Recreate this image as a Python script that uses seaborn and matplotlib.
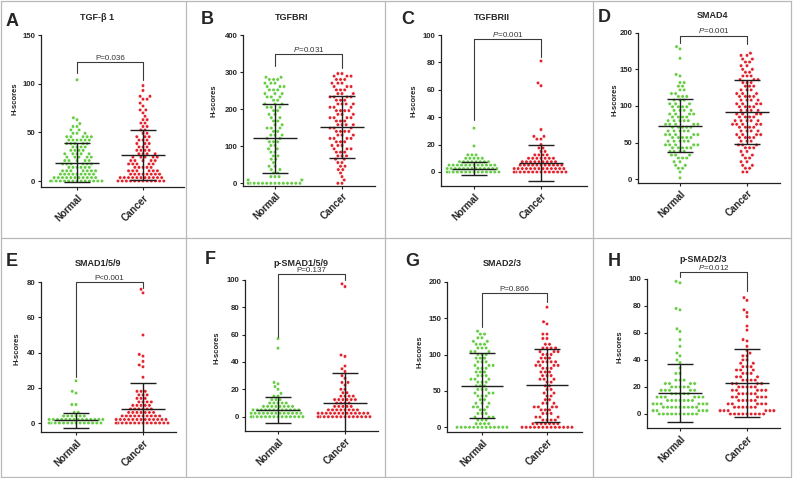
import warnings
warnings.filterwarnings("ignore")
import matplotlib
matplotlib.use("Agg")
import matplotlib.pyplot as plt
import numpy as np
import pandas as pd
import seaborn as sns
from matplotlib.lines import Line2D

sns.set_style("ticks")
plt.rcParams["font.family"] = ["Liberation Sans", "DejaVu Sans"]
plt.rcParams["mathtext.fontset"] = "custom"
plt.rcParams["mathtext.it"] = "Liberation Sans:italic"
plt.rcParams["mathtext.rm"] = "Liberation Sans"

# ---------------- data ----------------
groups = ["Normal", "Cancer"]
panel_letters = ["A", "B", "C", "D", "E", "F", "G", "H"]
titles = ["TGF-β 1", "TGFBRI", "TGFBRII", "SMAD4", "SMAD1/5/9", "p-SMAD1/5/9", "SMAD2/3", "p-SMAD2/3"]
p_labels = ["P=0.036", "$P$=0.031", "$P$=0.001", "$P$=0.001", "P<0.001", "P=0.137", "P=0.866", "$P$=0.012"]
yticks = [[0, 50, 100, 150], [0, 100, 200, 300, 400], [0, 20, 40, 60, 80, 100], [0, 50, 100, 150, 200],
          [0, 20, 40, 60, 80], [0, 20, 40, 60, 80, 100], [0, 50, 100, 150, 200], [0, 20, 40, 60, 80, 100]]

# each dot row: H-score of the row and number of dots in it
A_normal_levels = [0, 3.5, 7, 10.5, 14, 17.5, 21, 24.5, 28, 31.5, 35, 38.5, 42, 45.5, 49, 52.5, 56, 59, 63, 65, 104]
A_normal_counts = [14, 11, 9, 7, 6, 6, 5, 5, 5, 4, 4, 5, 6, 5, 3, 2, 2, 1, 1, 1, 1]
A_cancer_levels = [0, 3.5, 7, 10.5, 14, 17.5, 21, 24.5, 28, 31.5, 35, 38.5, 42, 45.5, 49, 52.5, 56, 59.5, 63,
                   66.5, 70, 73, 77, 80, 84, 87, 93, 98]
A_cancer_counts = [12, 11, 8, 6, 5, 5, 5, 5, 4, 4, 3, 3, 3, 3, 2, 2, 2, 2, 2, 1, 1, 2, 1, 1, 2, 2, 1, 1]
B_normal_levels = [0, 9, 18, 28, 37, 46, 56, 65, 74, 84, 93, 102, 112, 121, 130, 140, 149, 158, 168, 177, 186,
                   196, 205, 214, 224, 233, 242, 252, 261, 270, 280, 286]
B_normal_counts = [14, 8, 3, 2, 2, 2, 1, 2, 2, 2, 2, 2, 3, 2, 3, 2, 3, 2, 2, 2, 2, 2, 3, 3, 2, 3, 3, 3, 3, 3, 3, 2]
B_cancer_levels = [0, 9, 18, 28, 37, 46, 56, 65, 74, 84, 93, 102, 112, 121, 130, 140, 149, 158, 168, 177, 186,
                   196, 205, 214, 224, 233, 242, 252, 261, 270, 280, 289, 296]
B_cancer_counts = [2, 1, 1, 1, 2, 2, 2, 2, 3, 3, 3, 3, 3, 4, 3, 4, 3, 4, 3, 4, 3, 4, 3, 4, 3, 4, 3, 3, 3, 3, 3, 3, 2]
C_normal_levels = [0, 2.5, 5, 7.5, 10, 12.5, 19, 32]
C_normal_counts = [14, 13, 12, 8, 5, 3, 1, 1]
C_cancer_levels = [0, 2.5, 5, 7.5, 10, 12.5, 15, 17.5, 20, 24, 26, 31, 63, 65, 81]
C_cancer_counts = [14, 13, 11, 9, 7, 4, 2, 2, 1, 2, 2, 1, 1, 1, 1]
D_normal_levels = [2, 10, 15, 19, 24, 29, 33, 38, 43, 47, 52, 57, 61, 66, 71, 75, 80, 85, 89, 94, 99, 103, 108,
                   113, 117, 122, 127, 132, 141, 143, 165, 178, 181]
D_normal_counts = [1, 1, 2, 2, 2, 3, 3, 4, 5, 5, 5, 5, 5, 5, 5, 5, 5, 4, 4, 4, 4, 3, 3, 3, 2, 2, 2, 2, 1, 1, 1, 1, 1]
D_cancer_levels = [10, 15, 19, 24, 29, 33, 38, 43, 47, 52, 57, 61, 66, 71, 75, 80, 85, 89, 94, 99, 103, 108, 113,
                   117, 122, 127, 132, 136, 141, 146, 150, 155, 160, 164, 169, 172]
D_cancer_counts = [2, 2, 2, 2, 2, 2, 2, 3, 3, 3, 4, 4, 4, 4, 5, 5, 4, 4, 4, 4, 4, 4, 4, 3, 3, 3, 3, 3, 3, 2, 2, 2,
                   2, 2, 2, 1]
E_normal_levels = [0, 2, 4, 6, 10.5, 17, 18, 24]
E_normal_counts = [14, 14, 6, 2, 2, 1, 1, 1]
E_cancer_levels = [0, 2, 4, 6, 8, 10, 12, 14, 16, 18, 26, 32, 33, 35, 38, 39, 50, 74, 76]
E_cancer_counts = [14, 13, 10, 7, 6, 5, 4, 3, 3, 3, 1, 1, 1, 1, 1, 1, 1, 1, 1]
F_normal_levels = [0, 2.5, 5, 7.5, 10, 12.5, 15, 17, 20, 22, 24, 25, 50, 57]
F_normal_counts = [14, 13, 12, 8, 5, 3, 2, 1, 1, 1, 1, 1, 1, 1]
F_cancer_levels = [0, 2.5, 5, 7.5, 10, 12.5, 15, 17.5, 20, 23, 25, 28, 30, 33, 35, 37, 44, 45, 95, 97]
F_cancer_counts = [14, 13, 8, 5, 4, 6, 4, 2, 2, 1, 2, 1, 1, 1, 1, 1, 1, 1, 1, 1]
G_normal_levels = [0, 5, 10, 14, 19, 24, 28, 33, 38, 43, 47, 52, 57, 62, 66, 71, 76, 81, 85, 90, 95, 100, 104,
                   109, 114, 118, 123, 128, 132]
G_normal_counts = [13, 4, 3, 3, 3, 2, 3, 3, 2, 3, 3, 3, 3, 3, 3, 3, 3, 3, 3, 3, 3, 3, 3, 3, 3, 2, 2, 2, 1]
G_cancer_levels = [0, 5, 10, 14, 19, 24, 28, 33, 38, 43, 47, 52, 57, 62, 66, 71, 76, 81, 85, 90, 95, 100, 104,
                   109, 114, 122, 128, 142, 145, 165]
G_cancer_counts = [13, 7, 4, 3, 3, 3, 4, 3, 2, 2, 2, 2, 2, 2, 3, 3, 3, 3, 4, 5, 3, 3, 3, 4, 2, 2, 2, 1, 1, 1]
H_normal_levels = [0, 2.5, 5, 7.5, 10, 12.5, 15, 17.5, 20, 22.5, 25, 30, 34, 38, 40, 43, 45, 50, 55, 61, 63, 77,
                   78, 97, 98]
H_normal_counts = [10, 10, 9, 8, 7, 6, 5, 5, 5, 4, 3, 2, 1, 1, 1, 1, 1, 1, 1, 1, 1, 1, 1, 1, 1]
H_cancer_levels = [0, 2.5, 5, 7.5, 10, 12.5, 15, 17.5, 20, 22.5, 25, 27.5, 30, 32.5, 35, 37.5, 40, 43, 45, 47, 50,
                   54, 55, 62, 65, 72, 75, 77, 84, 86]
H_cancer_counts = [9, 8, 6, 5, 5, 5, 5, 5, 5, 4, 4, 3, 3, 3, 3, 2, 2, 2, 1, 1, 1, 1, 1, 1, 1, 1, 1, 1, 1, 1]

normal_rows = [(A_normal_levels, A_normal_counts), (B_normal_levels, B_normal_counts),
               (C_normal_levels, C_normal_counts), (D_normal_levels, D_normal_counts),
               (E_normal_levels, E_normal_counts), (F_normal_levels, F_normal_counts),
               (G_normal_levels, G_normal_counts), (H_normal_levels, H_normal_counts)]
cancer_rows = [(A_cancer_levels, A_cancer_counts), (B_cancer_levels, B_cancer_counts),
               (C_cancer_levels, C_cancer_counts), (D_cancer_levels, D_cancer_counts),
               (E_cancer_levels, E_cancer_counts), (F_cancer_levels, F_cancer_counts),
               (G_cancer_levels, G_cancer_counts), (H_cancer_levels, H_cancer_counts)]

# mean and SD as shown by the error bars
mean_normal = [18.8, 121, 2.4, 73, 1.5, 4.9, 57.2, 15.3]
sd_normal = [20.0, 92, 4.9, 36, 4.1, 9.6, 45, 21.4]
mean_cancer = [26.7, 151, 6.6, 92, 8.0, 10.2, 57.7, 22.9]
sd_cancer = [25.7, 83.5, 13.4, 43.5, 14.6, 22.0, 50, 24.9]

# significance bracket (H-score units)
bracket_top = [122, 348, 96.9, 195.5, 80, 104, 184, 104.7]
bracket_left = [111, 316, 38, 185.5, 26.3, 58.4, 138, 101.5]
bracket_right = [104, 310, 84, 185, 76.9, 99.8, 172.5, 91]

# ---------------- layout (pixels) ----------------
W, H = 793, 478
# left, right, top(pixel of ymax), zero pixel, bottom(axis line), ymax, normal x px, category spacing px
layout = [
    (41, 184, 35, 181, 187, 150, 77, 66),
    (243, 375, 35, 183.3, 185.5, 400, 275, 67),
    (441, 587, 35, 172, 185.7, 100, 474, 67),
    (638, 780, 32.7, 179.3, 182.7, 200, 680, 67),
    (41, 176, 282.3, 423, 432, 80, 76, 67),
    (245, 378, 279.7, 416.7, 430.7, 100, 278, 67),
    (447, 582, 281.7, 427.3, 431.7, 200, 482, 65),
    (647, 780, 278.7, 414, 428.3, 100, 680, 67),
]
title_pos = [(97, 18), (292, 18), (492, 18), (713, 15), (98, 264), (301, 263), (502, 263), (703, 259)]
letter_pos = [(6, 21), (201, 20), (401, 20), (598, 17), (6, 261), (205, 260), (405, 261), (608, 261)]
ylabel_pos = [(15, 99), (214, 101), (414, 101), (615, 100), (17, 349), (217, 348), (420, 352), (620, 347)]

green = "#66cc44"
red = "#e0222c"
bar_color = "#1e1e1e"

fig = plt.figure(figsize=(W / 100, H / 100), dpi=100)

frame_kw = dict(color="#b8b8b8", lw=0.9, transform=fig.transFigure)
for x in [0.6, 186, 385, 593, 791]:
    fig.add_artist(Line2D([x / W, x / W], [1 - 1 / H, 1 - 477 / H], **frame_kw))
for y in [1, 238, 477]:
    fig.add_artist(Line2D([0.6 / W, 791 / W], [1 - y / H, 1 - y / H], **frame_kw))

for i in range(8):
    left, right, top, zero, bottom, ymax, nx, sp = layout[i]
    ax = fig.add_axes([left / W, 1 - bottom / H, (right - left) / W, (bottom - top) / H])
    scale = (zero - top) / ymax
    ymin = -(bottom - zero) / scale
    nvals = np.repeat(normal_rows[i][0], normal_rows[i][1])
    cvals = np.repeat(cancer_rows[i][0], cancer_rows[i][1])
    df = pd.DataFrame({
        "group": ["Normal"] * len(nvals) + ["Cancer"] * len(cvals),
        "value": np.concatenate([nvals, cvals]),
    })
    sns.swarmplot(data=df, x="group", y="value", hue="group", order=groups,
                  palette={"Normal": green, "Cancer": red}, size=2.5, linewidth=0.35,
                  edgecolor="white", legend=False, ax=ax, zorder=2)
    ax.set_xlim(-(nx - left) / sp, (right - nx) / sp)
    ax.set_ylim(ymin, ymax)

    for j, (m, s) in enumerate([(mean_normal[i], sd_normal[i]), (mean_cancer[i], sd_cancer[i])]):
        ax.hlines(m, j - 0.33, j + 0.33, color=bar_color, lw=1.0, zorder=5)
        ax.hlines([m - s, m + s], j - 0.2, j + 0.2, color=bar_color, lw=1.0, zorder=5)
        ax.vlines(j, m - s, m + s, color=bar_color, lw=1.0, zorder=5)

    ax.plot([0, 0, 1, 1], [bracket_left[i], bracket_top[i], bracket_top[i], bracket_right[i]],
            color="#3a3a3a", lw=0.8, clip_on=False, zorder=6)
    ax.annotate(p_labels[i], xy=(0.5, bracket_top[i]), xytext=(0, 0.5), textcoords="offset points",
                ha="center", va="bottom", fontsize=5.8, color="#333333", annotation_clip=False)

    sns.despine(ax=ax)
    for sp_name in ["left", "bottom"]:
        ax.spines[sp_name].set_linewidth(0.9)
        ax.spines[sp_name].set_color("#222222")
    ax.set_yticks(yticks[i])
    ax.set_yticklabels([str(t) for t in yticks[i]], fontsize=5.6, fontweight="bold")
    ax.set_xticks([0, 1])
    ax.set_xticklabels(groups, rotation=45, ha="right", rotation_mode="anchor",
                       fontsize=7, fontweight="bold")
    ax.tick_params(axis="both", length=2.5, width=0.8, pad=1.5, color="#222222")
    ax.set_xlabel("")
    ax.set_ylabel("H-scores", fontsize=5.5, fontweight="bold")
    lx, ly = ylabel_pos[i]
    ax.yaxis.label.set_va("center")
    ax.yaxis.set_label_coords((lx - left) / (right - left), (bottom - ly) / (bottom - top))
    ax.patch.set_alpha(0)

    tx, ty = title_pos[i]
    fig.text(tx / W, 1 - ty / H, titles[i], ha="center", va="center", fontsize=6.5, fontweight="bold")
    lx2, ly2 = letter_pos[i]
    fig.text(lx2 / W, 1 - ly2 / H, panel_letters[i], ha="left", va="center", fontsize=13, fontweight="bold")

fig.savefig("out.png", dpi=100)
